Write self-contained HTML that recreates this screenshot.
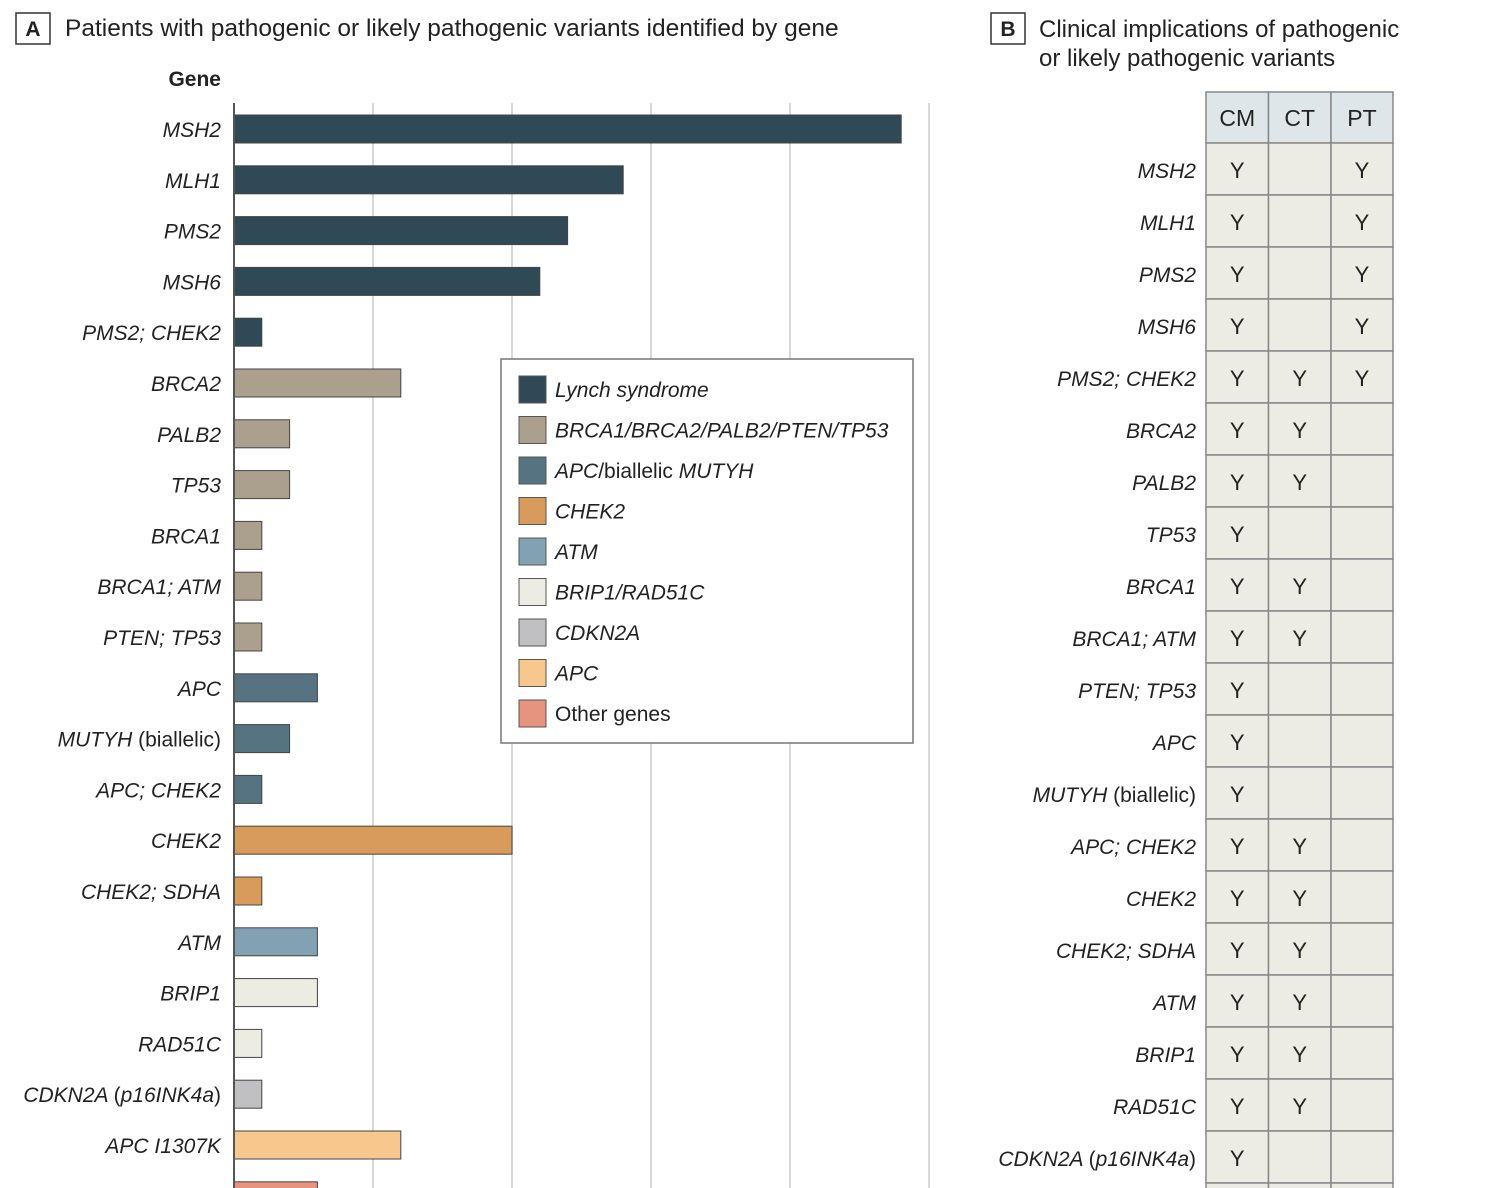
<!DOCTYPE html>
<html><head><meta charset="utf-8">
<style>
body{margin:0;background:#fff;width:1504px;height:1188px;overflow:hidden;font-family:"Liberation Sans",sans-serif;color:#222}
svg{display:block}
text{font-family:"Liberation Sans",sans-serif;fill:#222}
.it{font-style:italic}
</style></head><body>
<svg id="chart" width="1504" height="1188">
<g>
<rect x="16" y="13" width="34" height="31" fill="#fff" stroke="#333" stroke-width="1.5"/>
<text x="33" y="36" text-anchor="middle" font-size="21" font-weight="bold">A</text>
<text x="65" y="36" font-size="24.5">Patients with pathogenic or likely pathogenic variants identified by gene</text>
</g>
<text x="221" y="86" text-anchor="end" font-size="21" font-weight="bold">Gene</text>
<g id="grid"></g>
<g id="bars"></g>
<g id="legend"></g>
<g>
<rect x="991" y="13" width="34" height="31" fill="#fff" stroke="#333" stroke-width="1.5"/>
<text x="1008" y="36" text-anchor="middle" font-size="21" font-weight="bold">B</text>
<text x="1039" y="37" font-size="24">Clinical implications of pathogenic</text>
<text x="1039" y="66" font-size="24">or likely pathogenic variants</text>
</g>
<g id="table"></g>
</svg>
<script>
const genes=["MSH2","MLH1","PMS2","MSH6","PMS2; CHEK2","BRCA2","PALB2","TP53","BRCA1","BRCA1; ATM","PTEN; TP53","APC","MUTYH (biallelic)","APC; CHEK2","CHEK2","CHEK2; SDHA","ATM","BRIP1","RAD51C","CDKN2A (p16INK4a)","APC I1307K","SDHC"];
const counts=[24,14,12,11,1,6,2,2,1,1,1,3,2,1,10,1,3,3,1,1,6,3];
const groups=[0,0,0,0,0,1,1,1,1,1,1,2,2,2,3,3,4,5,5,6,7,8];
const groupNames=["Lynch syndrome","BRCA1/BRCA2/PALB2/PTEN/TP53","APC/biallelic MUTYH","CHEK2","ATM","BRIP1/RAD51C","CDKN2A","APC","Other genes"];
const groupColors=["#2f4a56","#aba08d","#557380","#d99b5b","#82a2b3","#ecece3","#c0c0c2","#f7c78d","#e6947f"];
const gridTicks=[0,5,10,15,20,25];
const tableGenes=["MSH2","MLH1","PMS2","MSH6","PMS2; CHEK2","BRCA2","PALB2","TP53","BRCA1","BRCA1; ATM","PTEN; TP53","APC","MUTYH (biallelic)","APC; CHEK2","CHEK2","CHEK2; SDHA","ATM","BRIP1","RAD51C","CDKN2A (p16INK4a)","APC I1307K"];
const colNames=["CM","CT","PT"];
const CM=[1,1,1,1,1,1,1,1,1,1,1,1,1,1,1,1,1,1,1,1,0];
const CT=[0,0,0,0,1,1,1,0,1,1,0,0,0,1,1,1,1,1,1,0,0];
const PT=[1,1,1,1,1,0,0,0,0,0,0,0,0,0,0,0,0,0,0,0,0];

const NS="http://www.w3.org/2000/svg";
function mk(parent,tag,attrs,txt){const e=document.createElementNS(NS,tag);for(const k in attrs)e.setAttribute(k,attrs[k]);if(txt!==undefined)e.textContent=txt;parent.appendChild(e);return e;}
const x0=234,unit=27.8;
const xs=v=>x0+v*unit;
const ys=i=>129+i*50.8;
function geneLabel(parent,g,x,y){
  const lab=mk(parent,'text',{x:x,y:y,'text-anchor':'end','font-size':21});
  if(g.indexOf(' (')>0){const p=g.split(' (');mk(lab,'tspan',{class:'it'},p[0]+' ');mk(lab,'tspan',{},'(');mk(lab,'tspan',{class:p[1].startsWith('p16')?'it':''},p[1].replace(')',''));mk(lab,'tspan',{},')');}
  else{lab.textContent=g;lab.setAttribute('class','it');}
  return lab;
}
const grid=document.getElementById('grid');
gridTicks.forEach(t=>{if(t===0)return;const l=mk(grid,'line',{x1:xs(t),x2:xs(t),y1:103,y2:1188,stroke:'#d8d8d8','stroke-width':2});

});
const bars=document.getElementById('bars');
genes.forEach((g,i)=>{
  const y=ys(i);
  const lab=geneLabel(bars,g,221,y+8);
  
  
  const r=mk(bars,'rect',{x:x0,y:y-14,width:xs(counts[i])-x0,height:28,fill:groupColors[groups[i]],stroke:'#444','stroke-width':1});
  
  
});
mk(bars,'line',{x1:x0,x2:x0,y1:103,y2:1188,stroke:'#555','stroke-width':2});
const lg=document.getElementById('legend');
const lb=mk(lg,'rect',{x:501,y:359,width:412,height:384,fill:'#fff',stroke:'#777','stroke-width':1.5});


groupNames.forEach((n,i)=>{
  const y=389+i*40.5;
  const sw=mk(lg,'rect',{x:519,y:y-13,width:27,height:27,fill:groupColors[i],stroke:'#555','stroke-width':1});
  
  
  let t;
  if(n==='APC/biallelic MUTYH'){t=mk(lg,'text',{x:555,y:y+8,'font-size':21});mk(t,'tspan',{class:'it'},'APC');mk(t,'tspan',{},'/biallelic ');mk(t,'tspan',{class:'it'},'MUTYH');}
  else t=mk(lg,'text',{x:555,y:y+8,'font-size':21,class:n==='Other genes'?'':'it'},n);
  
  
});
const tb=document.getElementById('table');
const cx=[1206,1268.5,1331,1393],tblTop=92,hh=51,rh=52;
colNames.forEach((c,j)=>{
  const r=mk(tb,'rect',{x:cx[j],y:tblTop,width:cx[j+1]-cx[j],height:hh,fill:'#dfe6ea',stroke:'#888','stroke-width':1.5});
  
  
  const t=mk(tb,'text',{x:(cx[j]+cx[j+1])/2,y:tblTop+34,'text-anchor':'middle','font-size':23},c);
  
  
});
const cols=[CM,CT,PT];
tableGenes.forEach((g,i)=>{
  const y=tblTop+hh+i*rh;
  const lab=geneLabel(tb,g,1196,y+35);
  
  
  cols.forEach((col,j)=>{
    const r=mk(tb,'rect',{x:cx[j],y:y,width:cx[j+1]-cx[j],height:rh,fill:'#ecece4',stroke:'#888','stroke-width':1.5});
    
    
    if(col[i]){const t=mk(tb,'text',{x:(cx[j]+cx[j+1])/2,y:y+35,'text-anchor':'middle','font-size':22},'Y');
    
    }
  });
});
</script>
</body></html>
